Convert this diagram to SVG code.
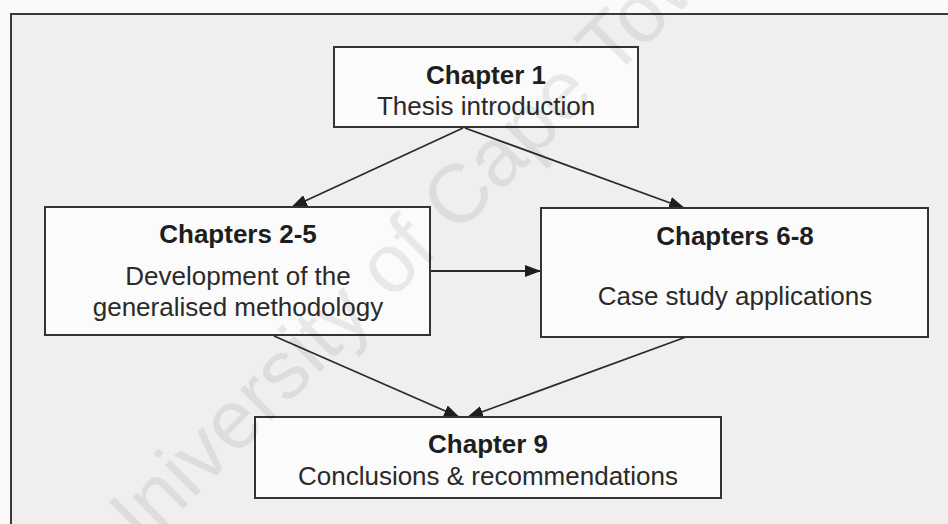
<svg xmlns="http://www.w3.org/2000/svg" width="948" height="524" viewBox="0 0 948 524">
  <style>
    .box { fill: #fbfbfb; stroke: #333333; stroke-width: 2; }
    .title { font-family: "Liberation Sans", Arial, sans-serif; font-size: 26px; font-weight: bold; fill: #1e1e1e; text-anchor: middle; }
    .sub { font-family: "Liberation Sans", Arial, sans-serif; font-size: 26px; fill: #2a2a2a; text-anchor: middle; }
    .link { fill: none; stroke: #2a2a2a; stroke-width: 1.8; marker-end: url(#head); }
    .mark { font-family: "Liberation Sans", Arial, sans-serif; font-size: 83px; fill: #000000; fill-opacity: 0.075; }
  </style>
  <defs>
    <marker id="head" markerWidth="16" markerHeight="12" refX="15" refY="6" orient="auto" markerUnits="userSpaceOnUse">
      <path d="M0,0 L16,6 L0,12 Z" fill="#1e1e1e"/>
    </marker>
  </defs>

  <!-- page and framed panel -->
  <rect x="0" y="0" width="948" height="524" fill="#fafafa"/>
  <rect x="11" y="14" width="945" height="520" fill="#efefef"/>
  <path d="M11,524 L11,14 L948,14" fill="none" stroke="#3a3a3a" stroke-width="2"/>

  <!-- connectors -->
  <g id="connectors">
    <path class="link" d="M463,128 L292,207"/>
    <path class="link" d="M465,128 L684,208"/>
    <path class="link" d="M430,271 L540,271"/>
    <path class="link" d="M274,336 L459,417"/>
    <path class="link" d="M686,337 L468,417"/>
  </g>

  <g id="ch1">
    <rect class="box" x="334" y="47" width="304" height="80"/>
    <text class="title" x="486" y="84">Chapter 1</text>
    <text class="sub" x="486" y="115">Thesis introduction</text>
  </g>

  <g id="ch2-5">
    <rect class="box" x="45" y="207" width="385" height="128"/>
    <text class="title" x="238" y="243">Chapters 2-5</text>
    <text class="sub" x="238" y="285">Development of the</text>
    <text class="sub" x="238" y="316">generalised methodology</text>
  </g>

  <g id="ch6-8">
    <rect class="box" x="541" y="208" width="387" height="129"/>
    <text class="title" x="735" y="245">Chapters 6-8</text>
    <text class="sub" x="735" y="305">Case study applications</text>
  </g>

  <g id="ch9">
    <rect class="box" x="255" y="417" width="466" height="81"/>
    <text class="title" x="488" y="453">Chapter 9</text>
    <text class="sub" x="488" y="485">Conclusions &amp; recommendations</text>
  </g>

  <!-- diagonal watermark -->
  <text class="mark" transform="translate(117,575) rotate(-45)">University of Cape Town</text>
</svg>
